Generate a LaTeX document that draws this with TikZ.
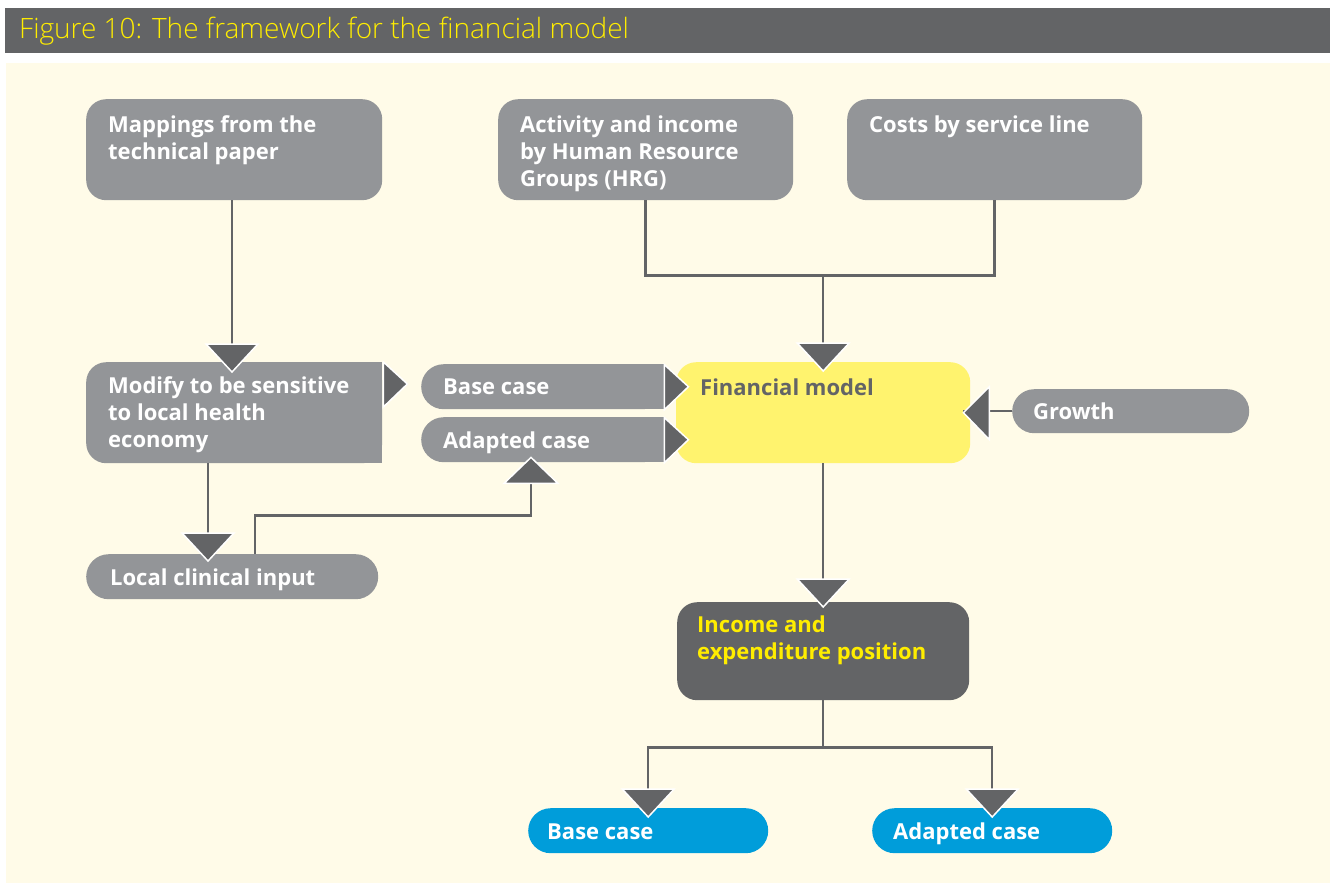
\documentclass[tikz,border=0pt]{standalone}
\usepackage{fontspec}
\setmainfont{Open Sans}
\newfontfamily\titlefont{Open Sans Light}
\usetikzlibrary{calc}
\definecolor{boxgray}{RGB}{147,149,152}
\definecolor{dgray}{RGB}{99,100,102}
\definecolor{cream}{RGB}{255,251,232}
\definecolor{ybox}{RGB}{255,243,110}
\definecolor{tyellow}{RGB}{255,237,0}
\definecolor{bluebox}{RGB}{0,157,218}
\begin{document}
\begin{tikzpicture}[x=1pt,y=-1pt,
  box/.style={fill=boxgray, rounded corners=20pt, anchor=north west, inner sep=0pt},
  pill/.style={fill=boxgray, rounded corners=22.5pt, anchor=north west, inner sep=0pt, minimum height=45pt},
  txt/.style={anchor=north west, inner sep=0pt, align=left, text=white, font=\fontsize{22}{27}\selectfont\bfseries},
  conn/.style={draw=dgray, line width=2.5pt},
  tri/.style={fill=dgray, draw=white, line width=1.5pt, line join=miter},
  dtri/.pic={\filldraw[tri] (-26,-28) -- (0,0) -- (26,-28) -- cycle;},
  utri/.pic={\filldraw[tri] (-27,26) -- (0,0) -- (27,26) -- cycle;},
  rtri/.pic={\filldraw[tri] (-24,-22) -- (0,0) -- (-24,23) -- cycle;},
  ltri/.pic={\filldraw[tri] (26,-26) -- (0,0) -- (26,27) -- cycle;}
]
\useasboundingbox (0,0) rectangle (1335,884);
\fill[white] (0,0) rectangle (1335,884);
% title bar and background
\fill[dgray] (5,8) rectangle (1330,53);
\node[anchor=west, inner sep=0pt, text=tyellow, font=\titlefont\fontsize{28}{32}\selectfont] (title) at (19,31) {Figure 10: The framework for the financial model};
\fill[cream] (6,63) rectangle (1330,883);

% boxes
\node[box, minimum width=296pt, minimum height=101pt] (map) at (86,99) {};
\node[box, minimum width=295pt, minimum height=101pt] (act) at (498,99) {};
\node[box, minimum width=295pt, minimum height=101pt] (cost) at (847,99) {};
\node[box, minimum width=296pt, minimum height=101pt] (mod) at (86,362) {};
\fill[boxgray] (mod.north) rectangle (mod.south east);
\node[pill, minimum width=244pt] (base) at (421,364) {};
\fill[boxgray] (base.north) rectangle (base.south east);
\node[pill, minimum width=244pt] (adap) at (421,417) {};
\fill[boxgray] (adap.north) rectangle (adap.south east);
\node[box, fill=ybox, minimum width=294pt, minimum height=101pt] (fin) at (676,362) {};
\node[pill, minimum width=237pt, minimum height=44pt, rounded corners=22pt] (growth) at (1012,389) {};
\node[pill, minimum width=292pt] (loc) at (86,554) {};
\node[box, fill=dgray, minimum width=292pt, minimum height=98pt] (inc) at (677,602) {};
\node[pill, fill=bluebox, minimum width=240pt] (bbase) at (528,808) {};
\node[pill, fill=bluebox, minimum width=240pt] (badap) at (872,808) {};

% coordinates
\coordinate (t1) at ($(mod.north west)+(146,10)$);
\coordinate (t2) at ($(mod.north east)+(25,22)$);
\coordinate (t3) at ($(base.east)+(23,0)$);
\coordinate (t4) at ($(adap.east)+(23,0)$);
\coordinate (t5) at ($(adap.south west)+(110,-5)$);
\coordinate (t6) at ($(loc.north west)+(122,7)$);
\coordinate (l1) at ($(loc.north west)+(169,0)$);
\coordinate (b5) at ($(t5)+(0,58)$);
\coordinate (j1) at ($(fin.north |- act.south)+(0,75)$);
\coordinate (t7) at ($(fin.north)+(0,9)$);
\coordinate (t8) at ($(fin.east)+(-7,0)$);
\coordinate (t9) at ($(inc.north)+(0,5)$);
\coordinate (j2) at ($(inc.south)+(0,47)$);
\coordinate (t10) at ($(bbase.north)+(0,9)$);
\coordinate (t11) at ($(badap.north)+(0,9)$);

% connectors
\draw[conn] (map.south -| t1) -- (t1);
\draw[conn] (mod.south -| t6) -- (t6);
\draw[conn] (l1) |- (b5) -- (t5);
\draw[conn] (act.south) |- (j1) -| (cost.south);
\draw[conn] (j1) -- (t7);
\draw[conn] (growth.west) -- (growth.west -| t8);
\draw[conn] (fin.south) -- (t9);
\draw[conn] (inc.south) -- (j2);
\draw[conn] (t10) |- (j2) -| (t11);

% arrowheads
\pic at (t1) {dtri};
\pic at (t2) {rtri};
\pic at (t3) {rtri};
\pic at (t4) {rtri};
\pic at (t5) {utri};
\pic at (t6) {dtri};
\pic at (t7) {dtri};
\pic at (t8) {ltri};
\pic at (t9) {dtri};
\pic at (t10) {dtri};
\pic at (t11) {dtri};

% texts
\node[txt] (mapT) at ($(map.north west)+(22,14)$) {\strut Mappings from the\\technical paper};
\node[txt] (actT) at ($(act.north west)+(22,14)$) {\strut Activity and income\\by Human Resource\\Groups (HRG)};
\node[txt] (costT) at ($(cost.north west)+(22,14)$) {\strut Costs by service line};
\node[txt] (modT) at ($(mod.north west)+(22,12)$) {\strut Modify to be sensitive\\to local health\\economy};
\node[txt] (baseT) at ($(base.north west)+(22,11)$) {\strut Base case};
\node[txt] (adapT) at ($(adap.north west)+(22,12)$) {\strut Adapted case};
\node[txt, text=dgray] (finT) at ($(fin.north west)+(24,14)$) {\strut Financial model};
\node[txt] (growthT) at ($(growth.north west)+(21,11)$) {\strut Growth};
\node[txt] (locT) at ($(loc.north west)+(24,12)$) {\strut Local clinical input};
\node[txt, text=tyellow] (incT) at ($(inc.north west)+(20,11)$) {\strut Income and\\expenditure position};
\node[txt] (bbaseT) at ($(bbase.north west)+(19,12)$) {\strut Base case};
\node[txt] (badapT) at ($(badap.north west)+(21,12)$) {\strut Adapted case};
\end{tikzpicture}
\end{document}
